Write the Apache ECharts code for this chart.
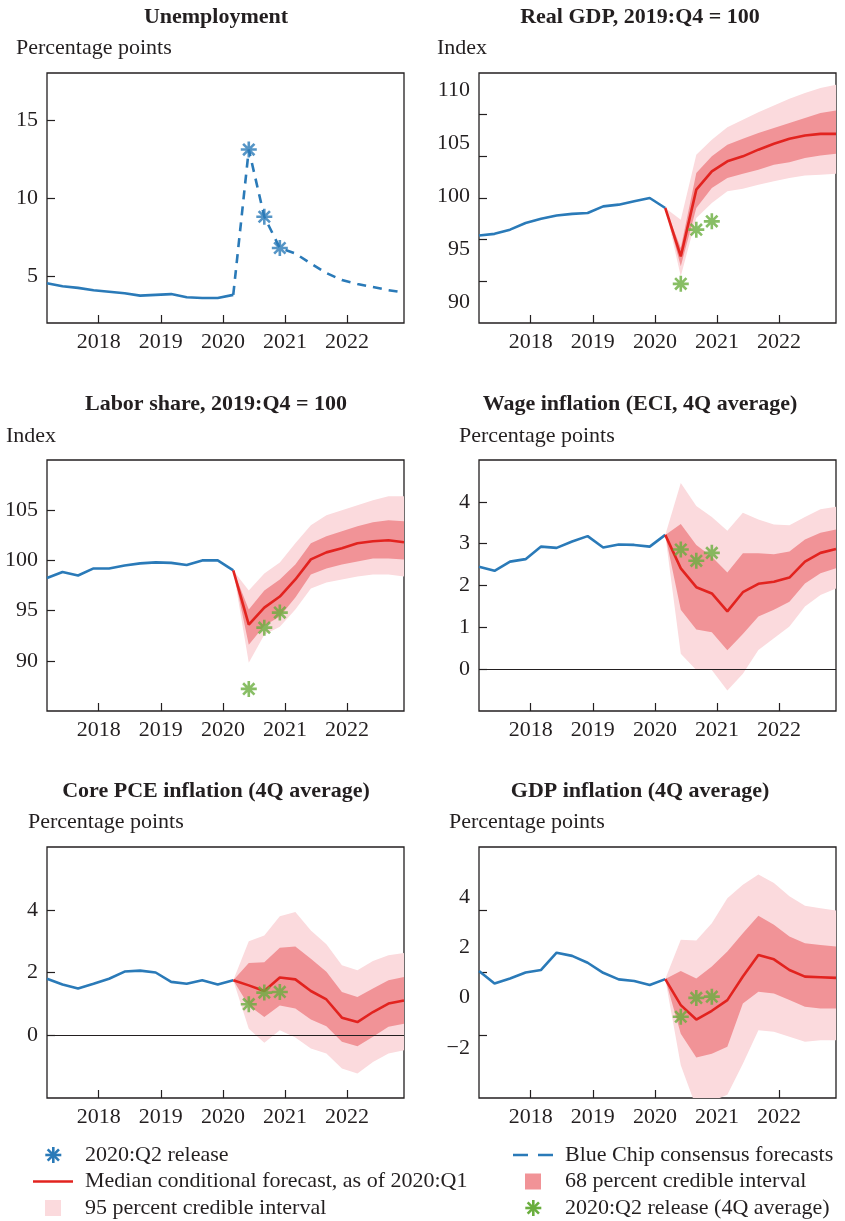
<!DOCTYPE html>
<html>
<head>
<meta charset="utf-8">
<title>Conditional forecasts vs 2020:Q2 release</title>
<script src="https://cdn.jsdelivr.net/npm/echarts@6/dist/echarts.min.js"></script>
<style>
  html, body { margin: 0; padding: 0; background: #fff; }
  #chart { width: 845px; height: 1221px; }
</style>
</head>
<body>
<div id="chart"></div>
<script>
// quarters on the x axis
const quarters = ['2017:Q1', '2017:Q2', '2017:Q3', '2017:Q4', '2018:Q1', '2018:Q2', '2018:Q3', '2018:Q4',
  '2019:Q1', '2019:Q2', '2019:Q3', '2019:Q4', '2020:Q1', '2020:Q2', '2020:Q3', '2020:Q4',
  '2021:Q1', '2021:Q2', '2021:Q3', '2021:Q4', '2022:Q1', '2022:Q2', '2022:Q3', '2022:Q4'];
const histQ = quarters.slice(0, 13);      // 2017:Q1 - 2020:Q1
const fcstQ = quarters.slice(12);         // 2020:Q1 - 2022:Q4
const releaseQ = ['2020:Q2', '2020:Q3', '2020:Q4'];
const yearTicks = [2018, 2019, 2020, 2021, 2022];

// Unemployment
const unempHist = [4.55, 4.35, 4.25, 4.1, 4.0, 3.9, 3.75, 3.8, 3.85, 3.65, 3.6, 3.6, 3.8];
const unempBlueChip = [3.8, 13.1, 8.8, 6.8, 6.45, 5.8, 5.2, 4.75, 4.5, 4.3, 4.1, 3.95];
const unempRelease = [13.1, 8.8, 6.8];

// Real GDP, 2019:Q4 = 100
const gdpHist = [95.5, 95.7, 96.2, 97.0, 97.5, 97.9, 98.1, 98.2, 99.0, 99.2, 99.6, 100.0, 98.8];
const gdpMedian = [98.8, 93.0, 101.0, 103.2, 104.4, 105.0, 105.8, 106.5, 107.1, 107.5, 107.7, 107.7];
const gdpLo68 = [98.8, 91.8, 98.8, 101.2, 102.4, 102.9, 103.4, 104.0, 104.3, 104.8, 105.1, 105.3];
const gdpHi68 = [98.8, 94.0, 103.0, 105.0, 106.4, 107.1, 107.8, 108.4, 109.0, 109.6, 110.2, 110.5];
const gdpLo95 = [98.8, 90.6, 97.6, 99.4, 100.8, 101.1, 101.6, 102.0, 102.4, 102.7, 102.8, 102.9];
const gdpHi95 = [98.8, 97.4, 105.2, 107.0, 108.5, 109.4, 110.3, 111.1, 111.9, 112.6, 113.2, 113.6];
const gdpRelease = [89.7, 96.2, 97.2];

// Labor share, 2019:Q4 = 100
const laborHist = [98.25, 98.85, 98.5, 99.2, 99.2, 99.5, 99.7, 99.8, 99.75, 99.55, 100.0, 100.0, 99.0];
const laborMedian = [99.0, 93.6, 95.3, 96.4, 98.1, 100.1, 100.8, 101.2, 101.7, 101.9, 102.0, 101.8];
const laborLo68 = [99.0, 91.6, 93.5, 94.4, 96.3, 98.6, 99.2, 99.6, 99.9, 100.2, 100.2, 100.1];
const laborHi68 = [99.0, 95.1, 97.0, 98.1, 99.6, 101.7, 102.4, 102.9, 103.4, 103.8, 104.0, 103.9];
const laborLo95 = [99.0, 89.8, 92.6, 93.4, 95.1, 97.2, 97.8, 98.1, 98.4, 98.6, 98.6, 98.4];
const laborHi95 = [99.0, 97.0, 98.7, 99.8, 101.7, 103.5, 104.5, 105.0, 105.5, 106.0, 106.4, 106.4];
const laborRelease = [87.2, 93.3, 94.8];

// Wage inflation (ECI, 4Q average)
const wageHist = [2.45, 2.35, 2.57, 2.63, 2.93, 2.90, 3.05, 3.18, 2.91, 2.98, 2.97, 2.93, 3.21];
const wageMedian = [3.21, 2.41, 1.96, 1.81, 1.38, 1.84, 2.04, 2.09, 2.19, 2.57, 2.78, 2.87];
const wageLo68 = [3.21, 1.42, 0.95, 0.88, 0.45, 0.84, 1.26, 1.42, 1.61, 2.05, 2.29, 2.41];
const wageHi68 = [3.21, 3.47, 2.97, 2.69, 2.31, 2.77, 2.77, 2.75, 2.81, 3.10, 3.26, 3.34];
const wageLo95 = [3.21, 0.37, -0.02, -0.02, -0.51, -0.11, 0.46, 0.74, 1.02, 1.50, 1.77, 1.93];
const wageHi95 = [3.21, 4.45, 3.90, 3.64, 3.31, 3.74, 3.58, 3.46, 3.44, 3.64, 3.82, 3.88];
const wageRelease = [2.86, 2.59, 2.78];

// Core PCE inflation (4Q average)
const pceHist = [1.80, 1.62, 1.49, 1.64, 1.80, 2.03, 2.06, 2.00, 1.70, 1.64, 1.75, 1.62, 1.75];
const pceMedian = [1.75, 1.59, 1.41, 1.84, 1.78, 1.41, 1.14, 0.56, 0.42, 0.74, 1.01, 1.11];
const pceLo68 = [1.75, 0.95, 0.58, 0.95, 0.85, 0.50, 0.29, -0.21, -0.35, -0.05, 0.27, 0.37];
const pceHi68 = [1.75, 2.30, 2.33, 2.79, 2.83, 2.44, 2.02, 1.38, 1.22, 1.49, 1.75, 1.86];
const pceLo95 = [1.75, 0.21, -0.24, 0.16, -0.07, -0.42, -0.58, -1.06, -1.22, -0.85, -0.58, -0.48];
const pceHi95 = [1.75, 3.00, 3.18, 3.79, 3.93, 3.34, 2.90, 2.23, 2.07, 2.37, 2.55, 2.62];
const pceRelease = [0.99, 1.36, 1.38];

// GDP inflation (4Q average)
const gdpiHist = [2.05, 1.65, 1.81, 2.0, 2.08, 2.63, 2.53, 2.31, 1.99, 1.78, 1.73, 1.60, 1.79];
const gdpiMedian = [1.79, 0.96, 0.50, 0.78, 1.12, 1.87, 2.56, 2.42, 2.08, 1.87, 1.85, 1.83];
const gdpiLo68 = [1.79, 0.05, -0.71, -0.59, -0.37, 1.01, 1.39, 1.33, 1.12, 0.91, 0.85, 0.85];
const gdpiHi68 = [1.79, 2.05, 1.81, 2.19, 2.67, 3.25, 3.81, 3.52, 3.15, 2.93, 2.88, 2.83];
const gdpiLo95 = [1.79, -0.96, -2.3, -2.1, -1.9, -0.91, 0.16, 0.11, -0.05, -0.21, -0.16, -0.16];
const gdpiHi95 = [1.79, 3.04, 3.02, 3.57, 4.37, 4.80, 5.12, 4.85, 4.43, 4.13, 4.05, 3.98];
const gdpiRelease = [0.59, 1.19, 1.23];

const BLUE = '#2a7ab8', RED = '#e2231f', GREEN = '#6aae3e';
const PINK95 = '#fbdadd', PINK68 = '#f19397', INK = '#231f20';
const FONT = 'Liberation Serif';
const STAR = 'path://M8 0L8 16M0 8L16 8M2.34 2.34L13.66 13.66M13.66 2.34L2.34 13.66';

// quarter plotted at its last month
function qx(label) {
  const y = +label.slice(0, 4), q = +label.slice(6);
  return y + (3 * q - 1) / 12;
}
function pts(labels, vals) {
  return labels.map((l, i) => [qx(l), vals[i]]);
}

const gridBoxes = [
  { left: 47, top: 73, width: 357, height: 250 },
  { left: 479, top: 73, width: 357, height: 250 },
  { left: 47, top: 460, width: 357, height: 251 },
  { left: 479, top: 460, width: 357, height: 251 },
  { left: 47, top: 847, width: 357, height: 251 },
  { left: 479, top: 847, width: 357, height: 251 }
];

const labelStyle = { fontFamily: FONT, fontSize: 22, color: INK };
const fmt = v => (v < 0 ? '\u2212' + Math.abs(v) : String(v));

function xAx(g) {
  return {
    type: 'value', gridIndex: g, min: qx(quarters[0]), max: qx(quarters[quarters.length - 1]),
    axisLine: { show: false, onZero: false }, splitLine: { show: false },
    axisTick: { inside: true, length: 8, customValues: yearTicks, lineStyle: { color: INK, width: 1.2 } },
    axisLabel: Object.assign({ customValues: yearTicks, margin: 8, formatter: v => String(v) }, labelStyle)
  };
}
function yAx(g, min, max, ticks, labels) {
  return {
    type: 'value', gridIndex: g, position: 'left', min, max,
    axisLine: { show: false, onZero: false }, splitLine: { show: false },
    axisTick: ticks ? { inside: true, length: 8, customValues: ticks, lineStyle: { color: INK, width: 1.2 } } : { show: false },
    axisLabel: labels ? Object.assign({ customValues: labels, margin: 9, formatter: fmt }, labelStyle) : { show: false }
  };
}

// credible band as one polygon between the lower and upper bounds
function band(g, lo, hi, color) {
  return {
    type: 'custom', xAxisIndex: g, yAxisIndex: g, silent: true, clip: true,
    data: fcstQ.map((q, i) => [qx(q), lo[i], hi[i]]),
    encode: { x: 0, y: [1, 2] },
    renderItem(params, api) {
      if (params.dataIndexInside !== 0) return null;
      const n = params.dataInsideLength;
      const upper = [], lower = [];
      for (let j = 0; j < n; j++) {
        const x = api.value(0, j);
        upper.push(api.coord([x, api.value(2, j)]));
        lower.unshift(api.coord([x, api.value(1, j)]));
      }
      const cs = params.coordSys;
      return {
        type: 'polygon', shape: { points: upper.concat(lower) },
        style: { fill: color },
        clipPath: { type: 'rect', shape: { x: cs.x, y: cs.y, width: cs.width, height: cs.height } }
      };
    }
  };
}
function line(g, labels, vals, color, extra) {
  return Object.assign({ type: 'line', xAxisIndex: g, yAxisIndex: g, data: pts(labels, vals),
    symbol: 'none', silent: true, lineStyle: { color, width: 2.6 } }, extra || {});
}
function stars(g, vals, color) {
  return { type: 'scatter', xAxisIndex: g, yAxisIndex: g, data: pts(releaseQ, vals), symbol: STAR,
    symbolSize: 16, silent: true, z: 5,
    itemStyle: { color: 'rgba(0,0,0,0)', borderColor: color, borderWidth: 2.6 } };
}
const zeroLine = { silent: true, symbol: ['none', 'none'], label: { show: false },
  lineStyle: { color: INK, width: 1.2, type: 'solid' }, data: [{ yAxis: 0 }] };

function forecastPanel(g, hist, med, lo68, hi68, lo95, hi95, rel, withZero) {
  return [
    band(g, lo95, hi95, PINK95),
    band(g, lo68, hi68, PINK68),
    line(g, histQ, hist, BLUE),
    line(g, fcstQ, med, RED, withZero ? { markLine: zeroLine } : {}),
    stars(g, rel, GREEN)
  ];
}

const series = [].concat(
  [line(0, histQ, unempHist, BLUE),
   line(0, fcstQ, unempBlueChip, BLUE, { lineStyle: { color: BLUE, width: 2.6, type: [9, 7] } }),
   stars(0, unempRelease, BLUE)],
  forecastPanel(1, gdpHist, gdpMedian, gdpLo68, gdpHi68, gdpLo95, gdpHi95, gdpRelease, false),
  forecastPanel(2, laborHist, laborMedian, laborLo68, laborHi68, laborLo95, laborHi95, laborRelease, false),
  forecastPanel(3, wageHist, wageMedian, wageLo68, wageHi68, wageLo95, wageHi95, wageRelease, true),
  forecastPanel(4, pceHist, pceMedian, pceLo68, pceHi68, pceLo95, pceHi95, pceRelease, true),
  forecastPanel(5, gdpiHist, gdpiMedian, gdpiLo68, gdpiHi68, gdpiLo95, gdpiHi95, gdpiRelease, false)
);

// titles and unit labels
const titles = [
  ['Unemployment', 216, 17], ['Real GDP, 2019:Q4 = 100', 640, 17],
  ['Labor share, 2019:Q4 = 100', 216, 404], ['Wage inflation (ECI, 4Q average)', 640, 404],
  ['Core PCE inflation (4Q average)', 216, 791], ['GDP inflation (4Q average)', 640, 791]
];
const units = [
  ['Percentage points', 16, 48], ['Index', 437, 48],
  ['Index', 6, 436], ['Percentage points', 459, 436],
  ['Percentage points', 28, 822], ['Percentage points', 449, 822]
];
const legendLeft = ['2020:Q2 release', 'Median conditional forecast, as of 2020:Q1', '95 percent credible interval'];
const legendRight = ['Blue Chip consensus forecasts', '68 percent credible interval', '2020:Q2 release (4Q average)'];
const legendRows = [1155, 1181.5, 1208];

function txt(text, x, y, bold, align) {
  return { type: 'text', x, y, silent: true,
    style: { text, fill: INK, fontFamily: FONT, fontSize: 22, fontWeight: bold ? 'bold' : 'normal',
      align: align || 'left', verticalAlign: 'middle' } };
}
function starGlyph(cx, cy, color) {
  const r = 8, d = r * 0.7071;
  const segs = [[0, -r, 0, r], [-r, 0, r, 0], [-d, -d, d, d], [d, -d, -d, d]];
  return { type: 'group', silent: true, children: segs.map(s => ({ type: 'line',
    shape: { x1: cx + s[0], y1: cy + s[1], x2: cx + s[2], y2: cy + s[3] },
    style: { stroke: color, lineWidth: 2.6 } })) };
}

const graphic = [].concat(
  titles.map(t => txt(t[0], t[1], t[2], true, 'center')),
  units.map(t => txt(t[0], t[1], t[2], false, 'left')),
  legendLeft.map((t, i) => txt(t, 85, legendRows[i], false, 'left')),
  legendRight.map((t, i) => txt(t, 565, legendRows[i], false, 'left')),
  [
    starGlyph(53.3, legendRows[0], BLUE),
    { type: 'line', silent: true, shape: { x1: 33, y1: legendRows[1], x2: 73, y2: legendRows[1] },
      style: { stroke: RED, lineWidth: 2.6 } },
    { type: 'rect', silent: true, shape: { x: 45, y: legendRows[2] - 8, width: 16, height: 16 },
      style: { fill: PINK95 } },
    { type: 'line', silent: true, shape: { x1: 513, y1: legendRows[0], x2: 553, y2: legendRows[0] },
      style: { stroke: BLUE, lineWidth: 2.6, lineDash: [15, 10] } },
    { type: 'rect', silent: true, shape: { x: 525, y: legendRows[1] - 8, width: 16, height: 16 },
      style: { fill: PINK68 } },
    starGlyph(533.3, legendRows[2], GREEN)
  ]
);

const option = {
  animation: false,
  backgroundColor: '#ffffff',
  grid: gridBoxes.map(b => Object.assign({ show: true, borderColor: INK, borderWidth: 1.3,
    backgroundColor: 'transparent', containLabel: false }, b)),
  xAxis: [0, 1, 2, 3, 4, 5].map(xAx),
  yAxis: [
    yAx(0, 2, 18, [5, 10, 15], [5, 10, 15]),
    yAx(1, 85, 115, [90, 95, 100, 105, 110], null),
    yAx(2, 85, 110, [90, 95, 100, 105], [90, 95, 100, 105]),
    yAx(3, -1, 5, [0, 1, 2, 3, 4], [0, 1, 2, 3, 4]),
    yAx(4, -2, 6, [0, 2, 4], [0, 2, 4]),
    yAx(5, -2, 6, [0, 2, 4], null),
    // label-only axes: the original figure prints these labels off their ticks
    yAx(1, 88, 111.65, null, [90, 95, 100, 105, 110]),
    yAx(5, -4, 6, null, [-2, 0, 2, 4])
  ],
  series,
  graphic
};

const chart = echarts.init(document.getElementById('chart'), null, { renderer: 'canvas' });
chart.setOption(option);
</script>
</body>
</html>
